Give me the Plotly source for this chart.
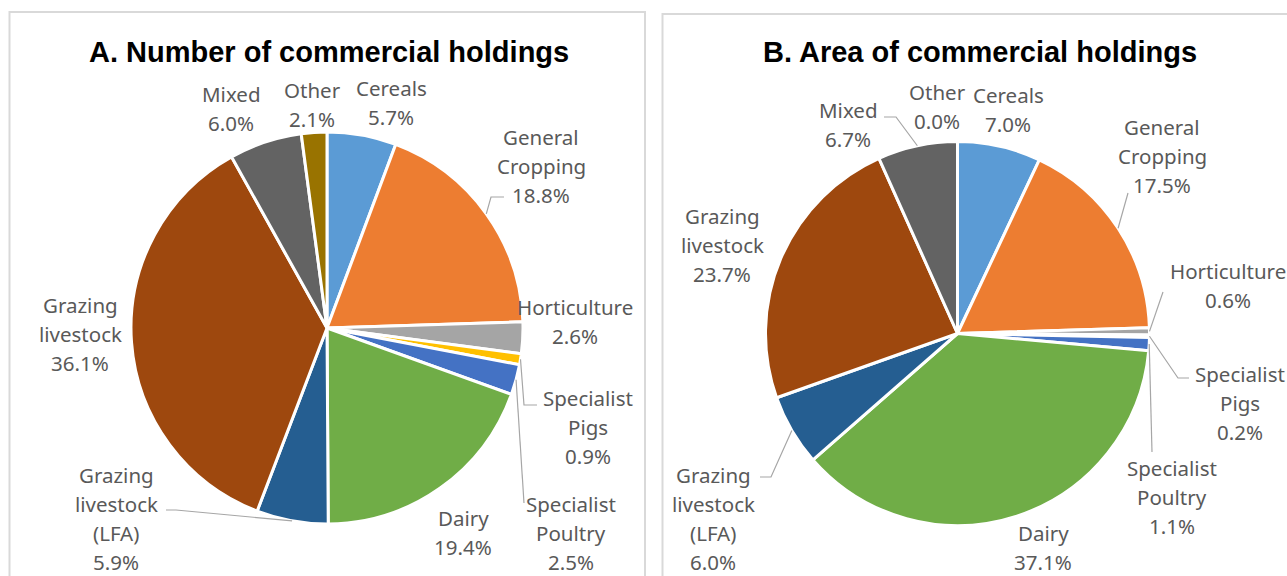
import math
import plotly.graph_objects as go

# ---------------- data ----------------
categories = ["Cereals", "General Cropping", "Horticulture", "Specialist Pigs",
              "Specialist Poultry", "Dairy", "Grazing livestock (LFA)",
              "Grazing livestock", "Mixed", "Other"]
number_pct = [5.7, 18.8, 2.6, 0.9, 2.5, 19.4, 5.9, 36.1, 6.0, 2.1]
area_pct = [7.0, 17.5, 0.6, 0.2, 1.1, 37.1, 6.0, 23.7, 6.7, 0.0]
label_lines = [["Cereals"], ["General", "Cropping"], ["Horticulture"],
               ["Specialist", "Pigs"], ["Specialist", "Poultry"], ["Dairy"],
               ["Grazing", "livestock", "(LFA)"], ["Grazing", "livestock"],
               ["Mixed"], ["Other"]]
titles = ["A. Number of commercial holdings", "B. Area of commercial holdings"]

colors = ["#5B9BD5", "#ED7D31", "#A5A5A5", "#FFC000", "#4472C4", "#70AD47",
          "#255E91", "#9E480E", "#636363", "#997300"]

# ---------------- layout (pixels) ----------------
W, H = 1287, 576
def fx(x): return x / W
def fy(y): return 1 - y / H

pies = [dict(cx=327, cy=328, r=196, title_x=329, title_y=52),
        dict(cx=957.5, cy=333.5, r=192, title_x=980, title_y=52)]

# label placement: (center x, first line y)
label_pos = [
    [(391, 88), (541, 137), (575, 307), (588, 398), (571, 504), (463, 518),
     (116, 475), (80, 305), (231, 94), (312, 90)],
    [(1008, 95), (1162, 127), (1228, 271), (1240, 374), (1172, 468), (1043, 533),
     (713, 475), (722, 216), (848, 110), (937, 92)],
]
# leader-line waypoints (after the slice anchor)
leaders = [
    {1: [(491, 197), (504, 197)], 3: [(524, 405), (537, 405)],
     4: [(524, 503)], 6: [(176, 510), (166, 510)]},
    {8: [(896, 117), (884, 117)], 1: [(1128, 193)], 2: [(1163, 292)],
     3: [(1178, 378), (1189, 378)], 4: [(1152, 452)], 6: [(771, 477), (760, 477)]},
]
LINE_STEP = 29
LABEL_FONT = dict(family="Noto Sans, Open Sans, sans-serif", size=20.5, color="#595959")

fig = go.Figure()
annotations = []
shapes = []

# panel borders
shapes.append(dict(type="rect", xref="paper", yref="paper",
                   x0=fx(9.5), x1=fx(645), y0=fy(12), y1=fy(600),
                   line=dict(color="#D9D9D9", width=2), layer="below"))
shapes.append(dict(type="rect", xref="paper", yref="paper",
                   x0=fx(662.5), x1=fx(1300), y0=fy(14), y1=fy(600),
                   line=dict(color="#D9D9D9", width=2), layer="below"))

for k, vals in enumerate([number_pct, area_pct]):
    p = pies[k]
    cx, cy, r = p["cx"], p["cy"], p["r"]
    fig.add_trace(go.Pie(
        labels=categories, values=vals, sort=False, direction="clockwise",
        rotation=0, textinfo="none", hoverinfo="label+percent",
        marker=dict(colors=colors, line=dict(color="white", width=3)),
        domain=dict(x=[fx(cx - r), fx(cx + r)], y=[fy(cy + r), fy(cy - r)]),
        showlegend=False))
    annotations.append(dict(text="<b>%s</b>" % titles[k], xref="paper", yref="paper",
                            x=fx(p["title_x"]), y=fy(p["title_y"]), showarrow=False,
                            xanchor="center", yanchor="middle",
                            font=dict(family="Liberation Sans, Arial, sans-serif",
                                      size=29, color="#000000")))
    total = sum(vals)
    cum = 0.0
    for i, v in enumerate(vals):
        mid = (cum + v / 2) / total
        cum += v
        ang = 2 * math.pi * mid
        ax, ay = cx + r * math.sin(ang), cy - r * math.cos(ang)
        lx, ly = label_pos[k][i]
        lines = label_lines[i] + ["%.1f%%" % v]
        for j, t in enumerate(lines):
            annotations.append(dict(text=t, xref="paper", yref="paper",
                                    x=fx(lx), y=fy(ly + j * LINE_STEP),
                                    showarrow=False, xanchor="center",
                                    yanchor="middle", font=LABEL_FONT))
        if i in leaders[k]:
            pts = [(ax, ay)] + leaders[k][i]
            path = "M %f %f " % (fx(pts[0][0]), fy(pts[0][1])) + " ".join(
                "L %f %f" % (fx(a), fy(b)) for a, b in pts[1:])
            shapes.append(dict(type="path", xref="paper", yref="paper", path=path,
                               line=dict(color="#A6A6A6", width=1.2)))

fig.update_layout(width=W, height=H, margin=dict(l=0, r=0, t=0, b=0),
                  paper_bgcolor="white", plot_bgcolor="white",
                  annotations=annotations, shapes=shapes)
fig.write_html("out.html", config={"displayModeBar": False},
               post_script="document.body.style.margin='0';"
                           "document.body.style.overflow='hidden';")
